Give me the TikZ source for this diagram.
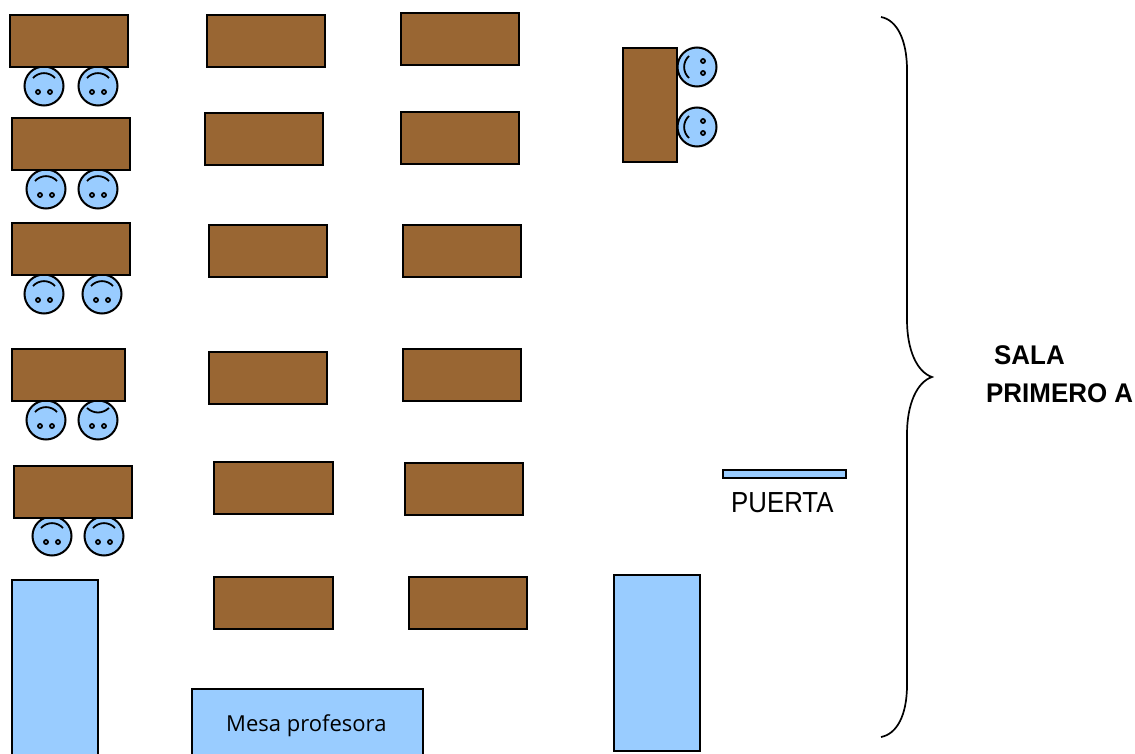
\documentclass[tikz,border=0pt]{standalone}
\usepackage{fontspec}
\setmainfont{Liberation Sans}
\newfontfamily\mesafont{Open Sans}
\definecolor{mesa}{HTML}{996633}
\definecolor{celeste}{HTML}{99CCFF}
\tikzset{
  desk/.style={draw=black,fill=mesa,line width=2pt},
  furn/.style={draw=black,fill=celeste,line width=2pt},
  lbl/.style={inner sep=0pt,anchor=base west,text=black},
}
\newcommand{\tbl}[5]{\path[desk] (#2,#3) rectangle (#4,#5) node[pos=.5,inner sep=0pt] (#1) {};}
\newcommand{\chair}[4]{%
  \begin{scope}[shift={(#1,#2)},rotate=#3]
    \draw[furn] (0,0) circle[radius=19.5];
    \draw[line width=1.8pt] (-6,6) circle[radius=2];
    \draw[line width=1.8pt] (6,6) circle[radius=2];
    \draw[line width=1.8pt] #4;
  \end{scope}}
\newcommand{\sad}{(-11,-8) .. controls (-5,-14.5) and (5,-14.5) .. (11,-8)}
\newcommand{\hap}{(-11,-12) .. controls (-4,-6) and (4,-6) .. (11,-12)}
\begin{document}
\begin{tikzpicture}[x=1pt,y=-1pt]
\useasboundingbox (0,0) rectangle (1135,754);
\begin{scope}
\clip (0,0) rectangle (1135,754);
\path[furn] (12,580) rectangle (98,770);
\path[furn] (192,689) rectangle (423,770);
\path[furn] (614,575) rectangle (700,751);
\path[furn] (723,470) rectangle (846,478);

\chair{44}{86}{0}{\sad}\chair{98}{86}{0}{\sad}
\chair{46}{189}{0}{\sad}\chair{98}{189}{0}{\sad}
\chair{44}{294}{0}{\sad}\chair{102}{294}{0}{\sad}
\chair{46}{420}{0}{\sad}\chair{98}{420}{0}{\hap}
\chair{52}{536}{0}{\sad}\chair{104}{536}{0}{\sad}
\chair{697}{67}{90}{\sad}\chair{697}{127}{90}{\sad}

\tbl{a1}{10}{15}{128}{67}
\tbl{a2}{12}{118}{130}{170}
\tbl{a3}{12}{223}{130}{275}
\tbl{a4}{12}{349}{125}{401}
\tbl{a5}{14}{466}{132}{518}
\tbl{b1}{207}{15}{325}{67}
\tbl{b2}{205}{113}{323}{165}
\tbl{b3}{209}{225}{327}{277}
\tbl{b4}{209}{352}{327}{404}
\tbl{b5}{214}{462}{333}{514}
\tbl{b6}{214}{577}{333}{629}
\tbl{c1}{401}{13}{519}{65}
\tbl{c2}{401}{112}{519}{164}
\tbl{c3}{403}{225}{521}{277}
\tbl{c4}{403}{349}{521}{401}
\tbl{c5}{405}{463}{523}{515}
\tbl{c6}{409}{577}{527}{629}
\tbl{d1}{623}{48}{677}{162}
\end{scope}

\draw[line width=1.7pt] (881,17) .. controls (897,20) and (907,40) .. (907,70)
  -- (907,320) .. controls (907,350) and (917,372) .. (932,377)
  .. controls (917,382) and (907,404) .. (907,434)
  -- (907,685) .. controls (907,715) and (897,734) .. (881,737);

\node[lbl,font=\mesafont\fontsize{22}{26}\selectfont] (mesa) at (226,731) {Mesa profesora};
\node[lbl,font=\fontsize{29}{34}\selectfont,xscale=.89] (puerta) at (731,512) {PUERTA};
\node[lbl,font=\bfseries\fontsize{27}{32}\selectfont,xscale=.96] (sala) at (994,364) {SALA};
\node[lbl,font=\bfseries\fontsize{27}{32}\selectfont,xscale=.96] (primero) at (986,402) {PRIMERO A};
\end{tikzpicture}
\end{document}
